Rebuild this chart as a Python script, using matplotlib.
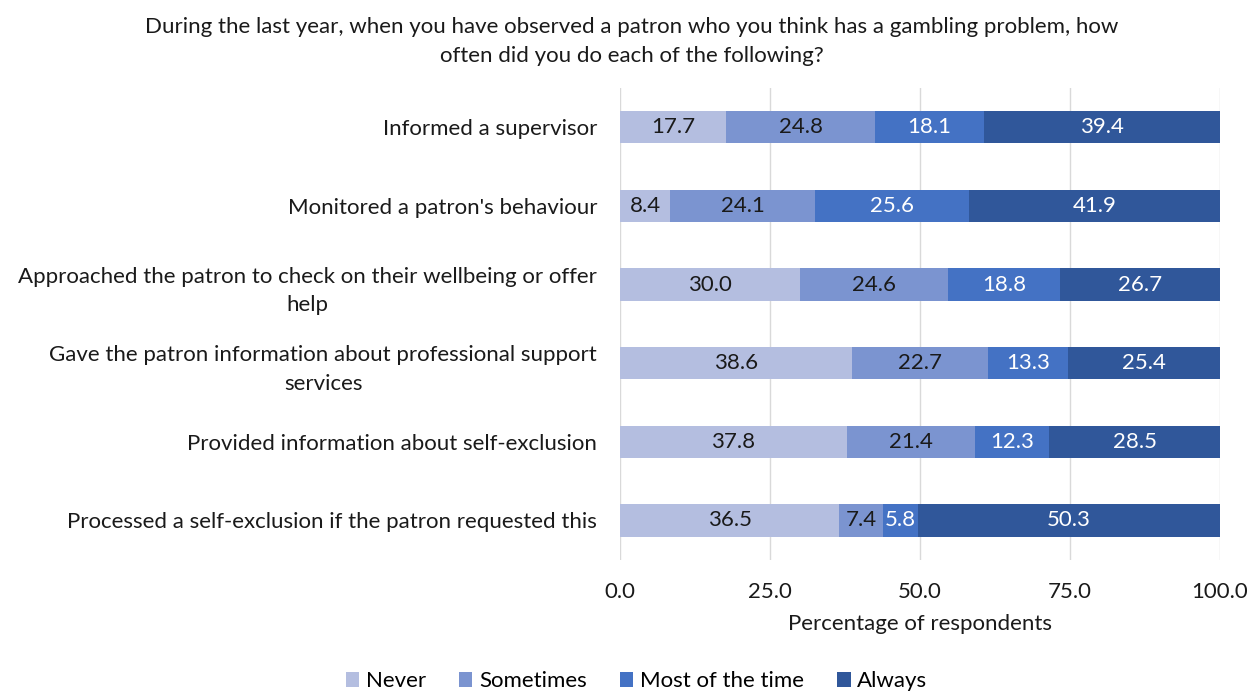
import matplotlib
matplotlib.use("Agg")
import matplotlib.pyplot as plt
import numpy as np

plt.rcParams['font.family'] = ['Lato', 'DejaVu Sans']

categories = [
    "Informed a supervisor",
    "Monitored a patron's behaviour",
    "Approached the patron to check on their wellbeing or offer\nhelp",
    "Gave the patron information about professional support\nservices",
    "Provided information about self-exclusion",
    "Processed a self-exclusion if the patron requested this",
]
series_names = ["Never", "Sometimes", "Most of the time", "Always"]
never = [17.7, 8.4, 30.0, 38.6, 37.8, 36.5]
sometimes = [24.8, 24.1, 24.6, 22.7, 21.4, 7.4]
most = [18.1, 25.6, 18.8, 13.3, 12.3, 5.8]
always = [39.4, 41.9, 26.7, 25.4, 28.5, 50.3]
x_ticks = [0.0, 25.0, 50.0, 75.0, 100.0]

colors = ["#B4BEE0", "#7B94D0", "#4472C4", "#30579A"]
text_colors = ["#1a1a1a", "#1a1a1a", "white", "white"]
FS = 16

fig = plt.figure(figsize=(12.58, 6.92), dpi=100)
ax = fig.add_axes([0.4929, 0.191, 0.4769, 0.682])

y = np.arange(len(categories))
left = np.zeros(len(categories))
for vals, name, c, tc in zip([never, sometimes, most, always], series_names, colors, text_colors):
    vals = np.array(vals)
    bars = ax.barh(y, vals, left=left, height=0.41, color=c, label=name, zorder=3)
    for b, v in zip(bars, vals):
        ax.text(b.get_x() + b.get_width() / 2, b.get_y() + b.get_height() / 2,
                f"{v:.1f}", ha="center", va="center", color=tc, fontsize=FS, zorder=4)
    left += vals

ax.set_xlim(0, 100)
ax.set_ylim(len(categories) - 0.5, -0.5)
ax.set_xticks(x_ticks)
ax.set_xticklabels([f"{t:.1f}" for t in x_ticks], fontsize=FS, color="#1a1a1a")
ax.set_yticks(y)
ax.set_yticklabels(categories, fontsize=FS, color="#1a1a1a", ha="right")
for t in ax.get_yticklabels():
    t.set_multialignment("center")
    t.set_linespacing(1.55)
ax.tick_params(axis="y", length=0, pad=16.5)
ax.tick_params(axis="x", length=0, pad=16)
ax.grid(axis="x", color="#d9d9d9", linewidth=1, zorder=0)
for s in ax.spines.values():
    s.set_visible(False)
ax.set_xlabel("Percentage of respondents", fontsize=FS, color="#1a1a1a", labelpad=8.5)

fig.text(0.502, 0.975,
         "During the last year, when you have observed a patron who you think has a gambling problem, how\noften did you do each of the following?",
         ha="center", va="top", fontsize=FS, color="#1a1a1a", linespacing=1.55)

fig.legend(loc="lower center", bbox_to_anchor=(0.506, -0.028), ncol=4, frameon=False,
           fontsize=FS, handlelength=0.6, handleheight=0.6, handletextpad=0.3,
           columnspacing=1.5)

fig.savefig("out.png", dpi=100)
